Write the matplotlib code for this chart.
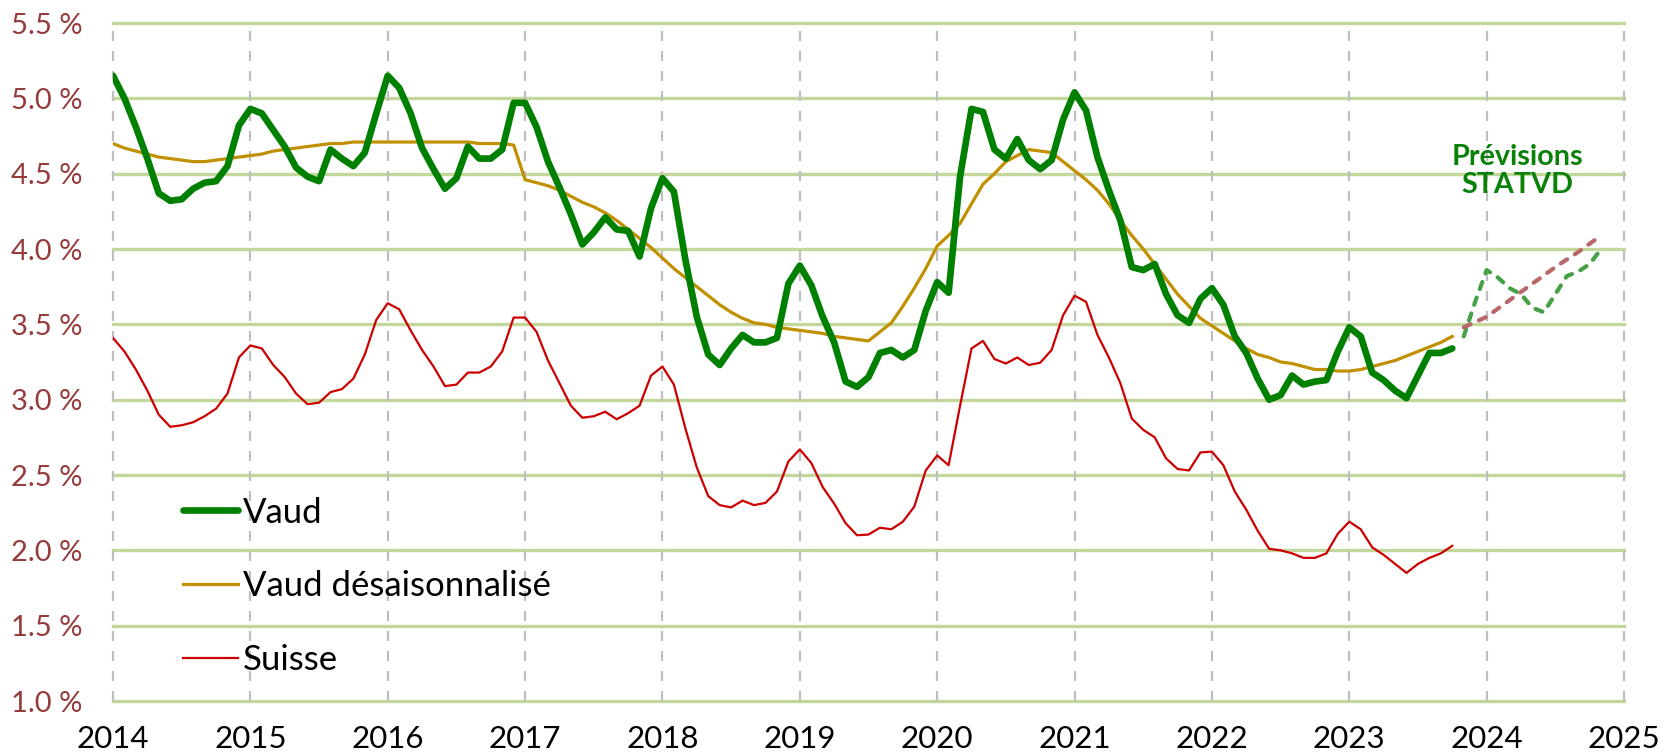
import matplotlib
matplotlib.use("Agg")
import matplotlib.pyplot as plt
import pandas as pd

# ---------------- data ----------------
start_month = "2014-01"

vaud = [
    5.15, 5.00, 4.81, 4.60, 4.37, 4.32, 4.33, 4.40, 4.44, 4.45, 4.55, 4.82,
    4.93, 4.90, 4.79, 4.68, 4.54, 4.48, 4.45, 4.66, 4.60, 4.55, 4.64, 4.90,
    5.15, 5.07, 4.90, 4.67, 4.53, 4.40, 4.47, 4.68, 4.60, 4.60, 4.66, 4.97,
    4.97, 4.81, 4.58, 4.41, 4.23, 4.03, 4.11, 4.21, 4.13, 4.12, 3.95, 4.27,
    4.47, 4.38, 3.93, 3.55, 3.30, 3.23, 3.34, 3.43, 3.38, 3.38, 3.41, 3.77,
    3.89, 3.76, 3.55, 3.38, 3.12, 3.085, 3.15, 3.31, 3.33, 3.28, 3.33, 3.59,
    3.78, 3.71, 4.48, 4.93, 4.91, 4.66, 4.60, 4.73, 4.59, 4.53, 4.59, 4.86,
    5.04, 4.92, 4.61, 4.39, 4.19, 3.88, 3.86, 3.90, 3.70, 3.56, 3.51, 3.67,
    3.74, 3.63, 3.42, 3.31, 3.14, 3.00, 3.03, 3.16, 3.10, 3.12, 3.13, 3.32,
    3.48, 3.42, 3.18, 3.13, 3.06, 3.01, 3.16, 3.31, 3.31, 3.34,
]

vaud_desais = [
    4.70, 4.67, 4.65, 4.63, 4.61, 4.60, 4.59, 4.58, 4.58, 4.59, 4.60, 4.61,
    4.62, 4.63, 4.65, 4.66, 4.67, 4.68, 4.69, 4.70, 4.70, 4.71, 4.71, 4.71,
    4.71, 4.71, 4.71, 4.71, 4.71, 4.71, 4.71, 4.71, 4.70, 4.70, 4.70, 4.69,
    4.46, 4.44, 4.42, 4.39, 4.35, 4.31, 4.28, 4.24, 4.19, 4.13, 4.07, 4.01,
    3.94, 3.87, 3.81, 3.75, 3.69, 3.63, 3.58, 3.54, 3.51, 3.50, 3.48, 3.47,
    3.46, 3.45, 3.44, 3.42, 3.41, 3.40, 3.39, 3.45, 3.51, 3.62, 3.74, 3.87,
    4.02, 4.09, 4.17, 4.30, 4.43, 4.50, 4.58, 4.62, 4.66, 4.65, 4.64, 4.58,
    4.52, 4.46, 4.39, 4.30, 4.19, 4.09, 4.00, 3.90, 3.80, 3.70, 3.62, 3.54,
    3.49, 3.44, 3.39, 3.34, 3.30, 3.28, 3.25, 3.24, 3.22, 3.20, 3.20, 3.19,
    3.19, 3.20, 3.22, 3.24, 3.26, 3.29, 3.32, 3.35, 3.38, 3.42,
]

suisse = [
    3.41, 3.32, 3.20, 3.06, 2.90, 2.82, 2.83, 2.85, 2.89, 2.94, 3.04, 3.28,
    3.36, 3.34, 3.23, 3.15, 3.04, 2.97, 2.98, 3.05, 3.07, 3.14, 3.30, 3.53,
    3.64, 3.60, 3.46, 3.33, 3.22, 3.09, 3.10, 3.18, 3.18, 3.22, 3.32, 3.545,
    3.545, 3.45, 3.26, 3.11, 2.96, 2.88, 2.89, 2.92, 2.87, 2.91, 2.96, 3.16,
    3.22, 3.10, 2.81, 2.55, 2.36, 2.30, 2.285, 2.33, 2.30, 2.315, 2.39, 2.59,
    2.67, 2.58, 2.42, 2.31, 2.18, 2.10, 2.105, 2.15, 2.14, 2.19, 2.29, 2.53,
    2.63, 2.565, 2.96, 3.34, 3.39, 3.27, 3.24, 3.28, 3.23, 3.245, 3.33, 3.56,
    3.69, 3.65, 3.43, 3.28, 3.11, 2.875, 2.80, 2.75, 2.61, 2.54, 2.53, 2.65,
    2.655, 2.565, 2.39, 2.27, 2.13, 2.01, 2.00, 1.98, 1.95, 1.95, 1.98, 2.11,
    2.19, 2.14, 2.02, 1.97, 1.91, 1.85, 1.91, 1.95, 1.98, 2.03,
]

# STATVD forecasts (monthly, Nov 2023 - Nov 2024)
forecast_start = "2023-11"
prev_vaud = [3.42, 3.65, 3.86, 3.81, 3.74, 3.70, 3.61, 3.58, 3.70, 3.82, 3.85, 3.90, 4.00]
# forecast trend, read every second month
trend_dates = ["2023-11", "2024-01", "2024-03", "2024-05", "2024-07", "2024-09", "2024-11"]
prev_trend = [3.48, 3.55, 3.66, 3.77, 3.88, 3.98, 4.09]

year_ticks = list(range(2014, 2026))
y_ticks = [1.0, 1.5, 2.0, 2.5, 3.0, 3.5, 4.0, 4.5, 5.0, 5.5]

labels = ["Vaud", "Vaud désaisonnalisé", "Suisse"]
annot = "Prévisions\nSTATVD"


def to_decimal_year(dates):
    d = pd.DatetimeIndex(dates)
    return d.year + (d.month - 1) / 12.0


x_main = to_decimal_year(pd.date_range(start_month, periods=len(vaud), freq="MS"))
x_prev = to_decimal_year(pd.date_range(forecast_start, periods=len(prev_vaud), freq="MS"))
x_trend = to_decimal_year(pd.to_datetime(trend_dates))

# ---------------- style ----------------
FONT = ["Lato", "DejaVu Sans"]
plt.rcParams["font.family"] = FONT

C_VAUD = "#008000"
C_DES = "#C09000"
C_CH = "#CC0000"
C_PREV = "#46A046"
C_TREND = "#B86868"
C_HGRID = "#C4D79B"
C_VGRID = "#BFBFBF"
C_YLAB = "#953B3B"

fig = plt.figure(figsize=(16.73, 7.56), dpi=100)
ax = fig.add_axes([113 / 1673, 1 - 701 / 756, (1624 - 113) / 1673, (701 - 23) / 756])

ax.set_xlim(year_ticks[0], year_ticks[-1])
ax.set_ylim(y_ticks[0], y_ticks[-1])

for s in ax.spines.values():
    s.set_visible(False)

# grid
for yv in y_ticks:
    ax.axhline(yv, color=C_HGRID, lw=2.4, zorder=1, clip_on=False)
for xv in year_ticks:
    ax.axvline(xv, color=C_VGRID, lw=1.6, ls=(0, (4.5, 4.5)), zorder=1.5, clip_on=False)

# series
ax.plot(x_main, vaud, color=C_VAUD, lw=4.8, zorder=4, solid_joinstyle="round",
        solid_capstyle="round", label=labels[0])
ax.plot(x_main, vaud_desais, color=C_DES, lw=2.3, zorder=3, label=labels[1])
ax.plot(x_main, suisse, color=C_CH, lw=1.6, zorder=3, label=labels[2])

ax.plot(x_prev, prev_vaud, color=C_PREV, lw=3.0, ls=(0, (1.8, 2.2)),
        dash_capstyle="round", zorder=3)
ax.plot(x_trend, prev_trend, color=C_TREND, lw=3.0, ls=(0, (1.8, 2.2)),
        dash_capstyle="round", zorder=3)

# ticks
ax.set_xticks(year_ticks)
ax.set_xticklabels([str(y) for y in year_ticks])
ax.set_yticks(y_ticks)
ax.set_yticklabels([f"{v:.1f} %" for v in y_ticks])
ax.tick_params(axis="both", length=0)
ax.tick_params(axis="y", pad=22, labelcolor=C_YLAB, labelsize=21)
ax.tick_params(axis="x", pad=17, labelcolor="black", labelsize=22.5)

# annotation
ax.text(2024.226, 4.515, annot, color="#0A820A", fontsize=20.7, fontweight="bold",
        ha="center", va="center", multialignment="center", linespacing=1.1, zorder=5)

# legend
leg = ax.legend(loc="upper left", bbox_to_anchor=(0.0464, 0.3015), frameon=False,
                fontsize=25, handlelength=1.58, handletextpad=0.15, labelspacing=1.2,
                borderpad=0, borderaxespad=0)
for t in leg.get_texts():
    t.set_color("black")

fig.savefig("out.png", dpi=100, facecolor="white")
